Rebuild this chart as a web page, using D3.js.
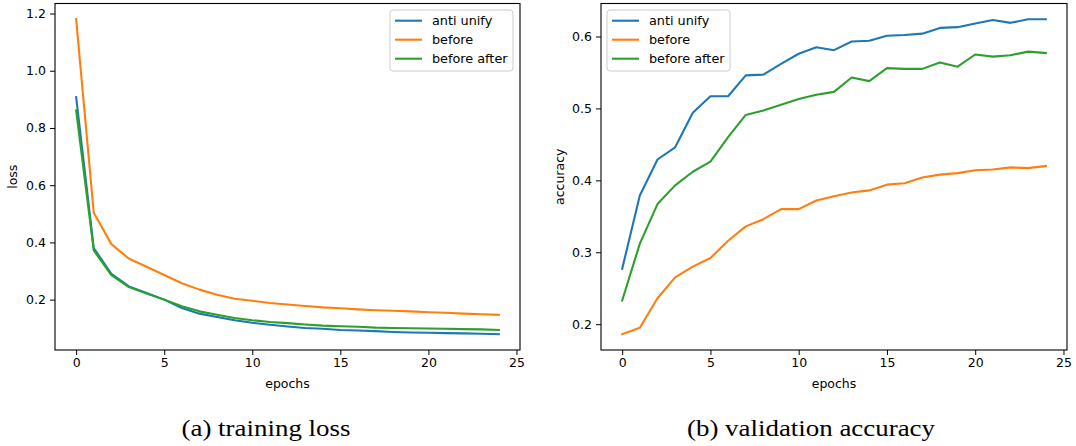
<!DOCTYPE html>
<html>
<head>
<meta charset="utf-8">
<script src="https://cdn.jsdelivr.net/npm/d3@7"></script>
<style>
  body { margin: 0; background: #fff; }
  svg { display: block; font-family: "DejaVu Sans", sans-serif; }
  .cap { font-family: "Liberation Serif"; font-size: 23px; font-weight: 400; }
</style>
</head>
<body>
<svg id="chart" width="1076" height="446"></svg>
<script>
const epochs = d3.range(0, 25);
const seriesNames = ["anti unify", "before", "before after"];
const colors = ["#1f77b4", "#ff7f0e", "#2ca02c"];

const lossAntiUnify = [0.908, 0.380, 0.290, 0.246, 0.223, 0.200, 0.171, 0.151, 0.139, 0.128, 0.119, 0.112, 0.106, 0.101, 0.098, 0.094, 0.092, 0.090, 0.087, 0.085, 0.084, 0.083, 0.082, 0.081, 0.079];
const lossBefore = [1.180, 0.504, 0.394, 0.343, 0.315, 0.286, 0.257, 0.235, 0.217, 0.203, 0.196, 0.188, 0.183, 0.178, 0.173, 0.170, 0.166, 0.163, 0.161, 0.159, 0.156, 0.154, 0.151, 0.149, 0.147];
const lossBeforeAfter = [0.861, 0.372, 0.286, 0.244, 0.221, 0.200, 0.177, 0.159, 0.147, 0.136, 0.128, 0.122, 0.118, 0.113, 0.109, 0.107, 0.105, 0.102, 0.101, 0.100, 0.099, 0.098, 0.097, 0.096, 0.094];

const accAntiUnify = [0.277, 0.379, 0.429, 0.446, 0.494, 0.517, 0.517, 0.546, 0.547, 0.562, 0.576, 0.585, 0.581, 0.593, 0.594, 0.601, 0.602, 0.604, 0.612, 0.613, 0.618, 0.623, 0.619, 0.624, 0.624];
const accBefore = [0.186, 0.195, 0.236, 0.265, 0.280, 0.292, 0.316, 0.336, 0.346, 0.360, 0.360, 0.372, 0.378, 0.383, 0.386, 0.394, 0.396, 0.404, 0.408, 0.410, 0.414, 0.415, 0.418, 0.417, 0.420];
const accBeforeAfter = [0.233, 0.312, 0.367, 0.393, 0.412, 0.426, 0.460, 0.491, 0.497, 0.505, 0.513, 0.519, 0.523, 0.543, 0.538, 0.556, 0.555, 0.555, 0.564, 0.558, 0.575, 0.572, 0.574, 0.579, 0.577];

const xTicks = [0, 5, 10, 15, 20, 25];
const lossTicks = [0.2, 0.4, 0.6, 0.8, 1.0, 1.2];
const accTicks = [0.2, 0.3, 0.4, 0.5, 0.6];

const svg = d3.select("#chart");

function panel(opts) {
  const { left, right, top, bottom, series, yTicks, yLabel, yLabelX, legendX, caption, captionX, captionLen } = opts;
  const all = series.flat();
  const [mn, mx] = d3.extent(all);
  const pad = (mx - mn) * 0.05;
  const x = d3.scaleLinear().domain([-1.2, 25.2]).range([left, right]);
  const y = d3.scaleLinear().domain([mn - pad, mx + pad]).range([bottom, top]);
  const g = svg.append("g");

  const line = d3.line().x((d, i) => x(epochs[i])).y(d => y(d));
  series.forEach((s, k) => {
    g.append("path").datum(s)
      .attr("fill", "none").attr("stroke", colors[k])
      .attr("stroke-width", 2.1).attr("stroke-linejoin", "round").attr("stroke-linecap", "square")
      .attr("d", line);
  });

  const xAxis = d3.axisBottom(x).tickValues(xTicks).tickFormat(d3.format("d")).tickSize(5).tickPadding(3);
  const gx = g.append("g").attr("transform", `translate(0,${bottom})`).call(xAxis);
  gx.select(".domain").remove();
  const yAxis = d3.axisLeft(y).tickValues(yTicks).tickFormat(d3.format(".1f")).tickSize(5).tickPadding(4);
  const gy = g.append("g").attr("transform", `translate(${left},0)`).call(yAxis);
  gy.select(".domain").remove();
  [gx, gy].forEach(a => {
    a.attr("font-family", null).attr("font-size", null);
    a.selectAll("text").style("font-size", "12.5px").style("font-family", "DejaVu Sans").attr("fill", "#000");
    a.selectAll("line").attr("stroke", "#000").attr("stroke-width", 1);
  });

  g.append("rect").attr("x", left).attr("y", top).attr("width", right - left).attr("height", bottom - top)
    .attr("fill", "none").attr("stroke", "#000").attr("stroke-width", 1.1);

  g.append("text").attr("x", (left + right) / 2).attr("y", bottom + 38)
    .attr("text-anchor", "middle").style("font-size", "12.5px").text("epochs");
  g.append("text").attr("transform", `translate(${yLabelX},${(top + bottom) / 2}) rotate(-90)`)
    .attr("text-anchor", "middle").style("font-size", "12.5px").text(yLabel);

  // legend
  const lg = g.append("g").attr("transform", `translate(${legendX},10)`);
  lg.append("rect").attr("width", 123).attr("height", 61).attr("rx", 3)
    .attr("fill", "#fff").attr("fill-opacity", 0.8).attr("stroke", "#cccccc").attr("stroke-width", 1);
  seriesNames.forEach((name, k) => {
    const yy = 10.7 + 19 * k;
    lg.append("line").attr("x1", 5).attr("x2", 32).attr("y1", yy).attr("y2", yy)
      .attr("stroke", colors[k]).attr("stroke-width", 2.1);
    lg.append("text").attr("x", 42).attr("y", yy + 4.5).style("font-size", "12.8px").text(name);
  });

  svg.append("text").attr("class", "cap").attr("x", captionX).attr("y", 436)
    .attr("text-anchor", "middle")
    .attr("textLength", captionLen).attr("lengthAdjust", "spacingAndGlyphs")
    .text(caption);
}

panel({
  left: 55, right: 520, top: 3.5, bottom: 350,
  series: [lossAntiUnify, lossBefore, lossBeforeAfter],
  yTicks: lossTicks, yLabel: "loss", yLabelX: 17, legendX: 390,
  caption: "(a) training loss", captionX: 266, captionLen: 169
});
panel({
  left: 601, right: 1067, top: 3.5, bottom: 350,
  series: [accAntiUnify, accBefore, accBeforeAfter],
  yTicks: accTicks, yLabel: "accuracy", yLabelX: 564, legendX: 607,
  caption: "(b) validation accuracy", captionX: 811, captionLen: 248
});
</script>
</body>
</html>
